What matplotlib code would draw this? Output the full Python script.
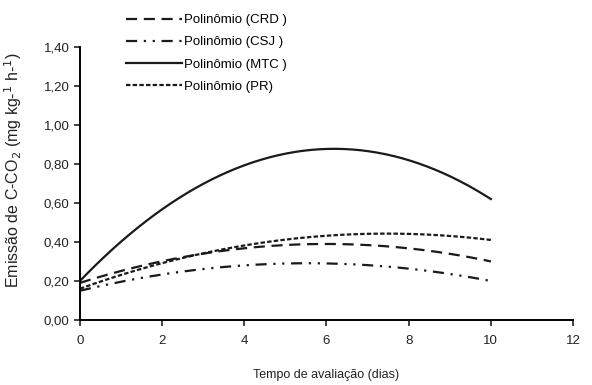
import matplotlib
matplotlib.use("Agg")
import matplotlib.pyplot as plt
import numpy as np

plt.rcParams['font.family'] = ['Liberation Sans', 'DejaVu Sans']

# dias de avaliacao
dias = [0, 0.5, 1, 1.5, 2, 2.5, 3, 3.5, 4, 4.5, 5, 5.5, 6, 6.5, 7, 7.5, 8, 8.5, 9, 9.5, 10]

crd = [0.190, 0.222, 0.251, 0.278, 0.301, 0.322, 0.340, 0.355, 0.368, 0.377, 0.384, 0.388,
       0.390, 0.388, 0.384, 0.377, 0.367, 0.355, 0.339, 0.321, 0.300]
csj = [0.150, 0.174, 0.196, 0.215, 0.233, 0.248, 0.261, 0.271, 0.280, 0.286, 0.290, 0.291,
       0.290, 0.287, 0.281, 0.273, 0.263, 0.250, 0.236, 0.219, 0.200]
mtc = [0.200, 0.305, 0.401, 0.489, 0.567, 0.637, 0.698, 0.750, 0.793, 0.827, 0.853, 0.869,
       0.877, 0.876, 0.866, 0.847, 0.819, 0.783, 0.737, 0.683, 0.620]
pr = [0.160, 0.197, 0.231, 0.262, 0.291, 0.318, 0.342, 0.363, 0.382, 0.398, 0.412, 0.423,
      0.432, 0.438, 0.442, 0.443, 0.441, 0.437, 0.431, 0.422, 0.410]

# ajuste de 2o grau para desenhar as curvas suaves
xs = np.linspace(0, 10, 200)

fig = plt.figure(figsize=(5.92, 3.85), dpi=100)
ax = fig.add_axes([0.135, 0.169, 0.833, 0.709])

estilos = [
    ('Polinômio (CRD )', crd, (0, (5, 3))),
    ('Polinômio (CSJ )', csj, (0, (5, 3, 1, 3, 1, 3))),
    ('Polinômio (MTC )', mtc, '-'),
    ('Polinômio (PR)', pr, (0, (2, 1))),
]
for nome, vals, ls in estilos:
    coef = np.polyfit(dias, vals, 2)
    ax.plot(xs, np.polyval(coef, xs), ls=ls, c='#1a1a1a', lw=1.6, label=nome)

ax.set_xlim(0, 12)
ax.set_ylim(0, 1.4)
ax.set_xticks(range(0, 13, 2))
ax.set_yticks(np.arange(0, 1.41, 0.2))
ax.set_yticklabels([('%.2f' % v).replace('.', ',') for v in np.arange(0, 1.41, 0.2)])
for s in ['top', 'right']:
    ax.spines[s].set_visible(False)
for s in ['left', 'bottom']:
    ax.spines[s].set_linewidth(1.4)
ax.tick_params(direction='out', length=4, width=1.2, labelsize=9.5, colors='#222222')
ax.tick_params(axis='x', pad=7)

ax.set_xlabel('Tempo de avaliação (dias)', fontsize=9, labelpad=16, color='#222222')
ax.set_ylabel('Emissão de C-CO$_2$ (mg kg-$^{1}$ h-$^{1}$)', fontsize=11.5, color='#222222')
ax.yaxis.set_label_coords(-0.114, 0.55)

ax.legend(loc='upper left', bbox_to_anchor=(0.082, 1.14), frameon=False, fontsize=9.5,
          handlelength=4.3, handletextpad=0.1, labelspacing=0.75, borderaxespad=0)

fig.savefig('out.png', dpi=100)
